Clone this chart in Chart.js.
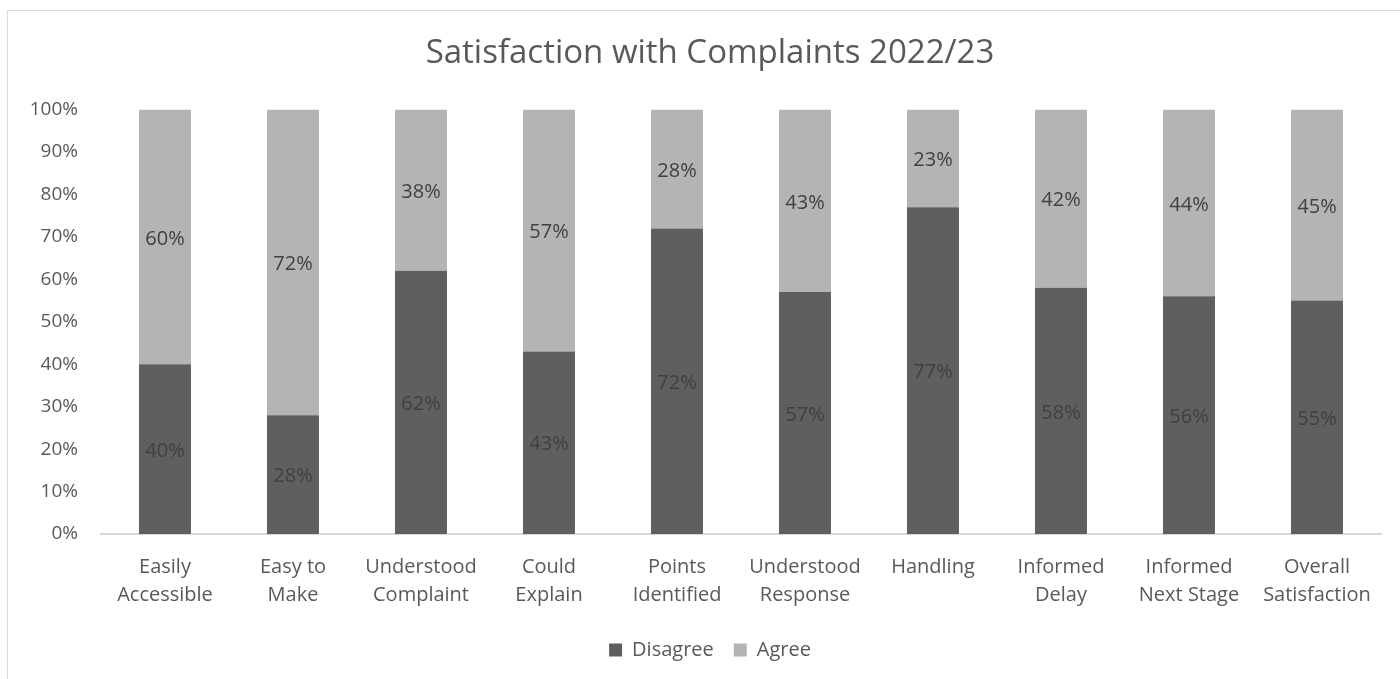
<!DOCTYPE html>
<html>
<head>
<meta charset="utf-8">
<script src="https://cdn.jsdelivr.net/npm/chart.js@4"></script>
<style>
  html, body { margin: 0; padding: 0; background: #fff; overflow: hidden; }
  #wrap { position: relative; width: 1400px; height: 679px; overflow: hidden; }
  #frame { position: absolute; left: 7px; top: 10px; width: 1500px; height: 800px; border: 1px solid #d9d9d9; pointer-events: none; }
</style>
</head>
<body>
<div id="wrap">
  <canvas id="chart" width="1420" height="679"></canvas>
  <div id="frame"></div>
</div>
<script>
// categories + values
const categories = [
    ['Easily', 'Accessible'],
    ['Easy to', 'Make'],
    ['Understood', 'Complaint'],
    ['Could', 'Explain'],
    ['Points', 'Identified'],
    ['Understood', 'Response'],
    'Handling',
    ['Informed', 'Delay'],
    ['Informed', 'Next Stage'],
    ['Overall', 'Satisfaction']
];
const disagree = [40, 28, 62, 43, 72, 57, 77, 58, 56, 55];
const agree = [60, 72, 38, 57, 28, 43, 23, 42, 44, 45];
const yTicks = [0, 10, 20, 30, 40, 50, 60, 70, 80, 90, 100];

const FONT = "'Open Sans', sans-serif";
const TXT = '#595959';

// labels in the middle of each segment
const segmentLabels = {
    id: 'segmentLabels',
    afterDatasetsDraw(chart) {
        const ctx = chart.ctx;
        ctx.save();
        ctx.font = '20px ' + FONT;
        ctx.fillStyle = '#404040';
        ctx.textAlign = 'center';
        ctx.textBaseline = 'middle';
        chart.data.datasets.forEach((ds, i) => {
            chart.getDatasetMeta(i).data.forEach((bar, j) => {
                const y = (bar.y + bar.base) / 2 + 2;
                ctx.fillText(ds.data[j] + '%', bar.x, y);
            });
        });
        ctx.restore();
    }
};

const ctx = document.getElementById('chart').getContext('2d');

new Chart(ctx, {
    type: 'bar',
    data: {
        labels: categories,
        datasets: [
            { label: 'Disagree', data: disagree, backgroundColor: '#5f5f5f' },
            { label: 'Agree', data: agree, backgroundColor: '#b4b4b4' }
        ]
    },
    options: {
        responsive: false,
        animation: false,
        devicePixelRatio: 1,
        layout: { padding: { left: 0, right: 0, top: 0, bottom: 9 } },
        datasets: { bar: { barPercentage: 1, categoryPercentage: 0.406 } },
        scales: {
            x: {
                stacked: true,
                grid: { display: false },
                border: { color: '#d9d9d9', width: 2 },
                ticks: { color: TXT, font: { family: FONT, size: 20, lineHeight: 1.4 }, padding: 11, maxRotation: 0, autoSkip: false }
            },
            y: {
                stacked: true,
                min: 0,
                max: 100,
                afterBuildTicks: scale => { scale.ticks = yTicks.map(v => ({ value: v })); },
                afterFit: scale => { scale.width = 101; },
                grid: { display: false, drawTicks: false },
                border: { display: false },
                ticks: {
                    color: TXT,
                    padding: 23,
                    font: { family: FONT, size: 19 },
                    callback: v => v + '%'
                }
            },
            // empty spacer on the right so title/legend centre like the original
            spacer: {
                position: 'right',
                grid: { display: false, drawTicks: false },
                border: { display: false },
                ticks: { display: false },
                afterFit: scale => { scale.width = 39; }
            }
        },
        plugins: {
            title: {
                display: true,
                text: 'Satisfaction with Complaints 2022/23',
                color: TXT,
                font: { family: FONT, size: 33, weight: 'normal', lineHeight: 1.2 },
                padding: { top: 34, bottom: 36 }
            },
            legend: {
                position: 'bottom',
                labels: {
                    color: TXT,
                    font: { family: FONT, size: 20 },
                    boxWidth: 13,
                    boxHeight: 13,
                    padding: 20
                }
            },
            tooltip: { enabled: false }
        }
    },
    plugins: [segmentLabels]
});
</script>
</body>
</html>
